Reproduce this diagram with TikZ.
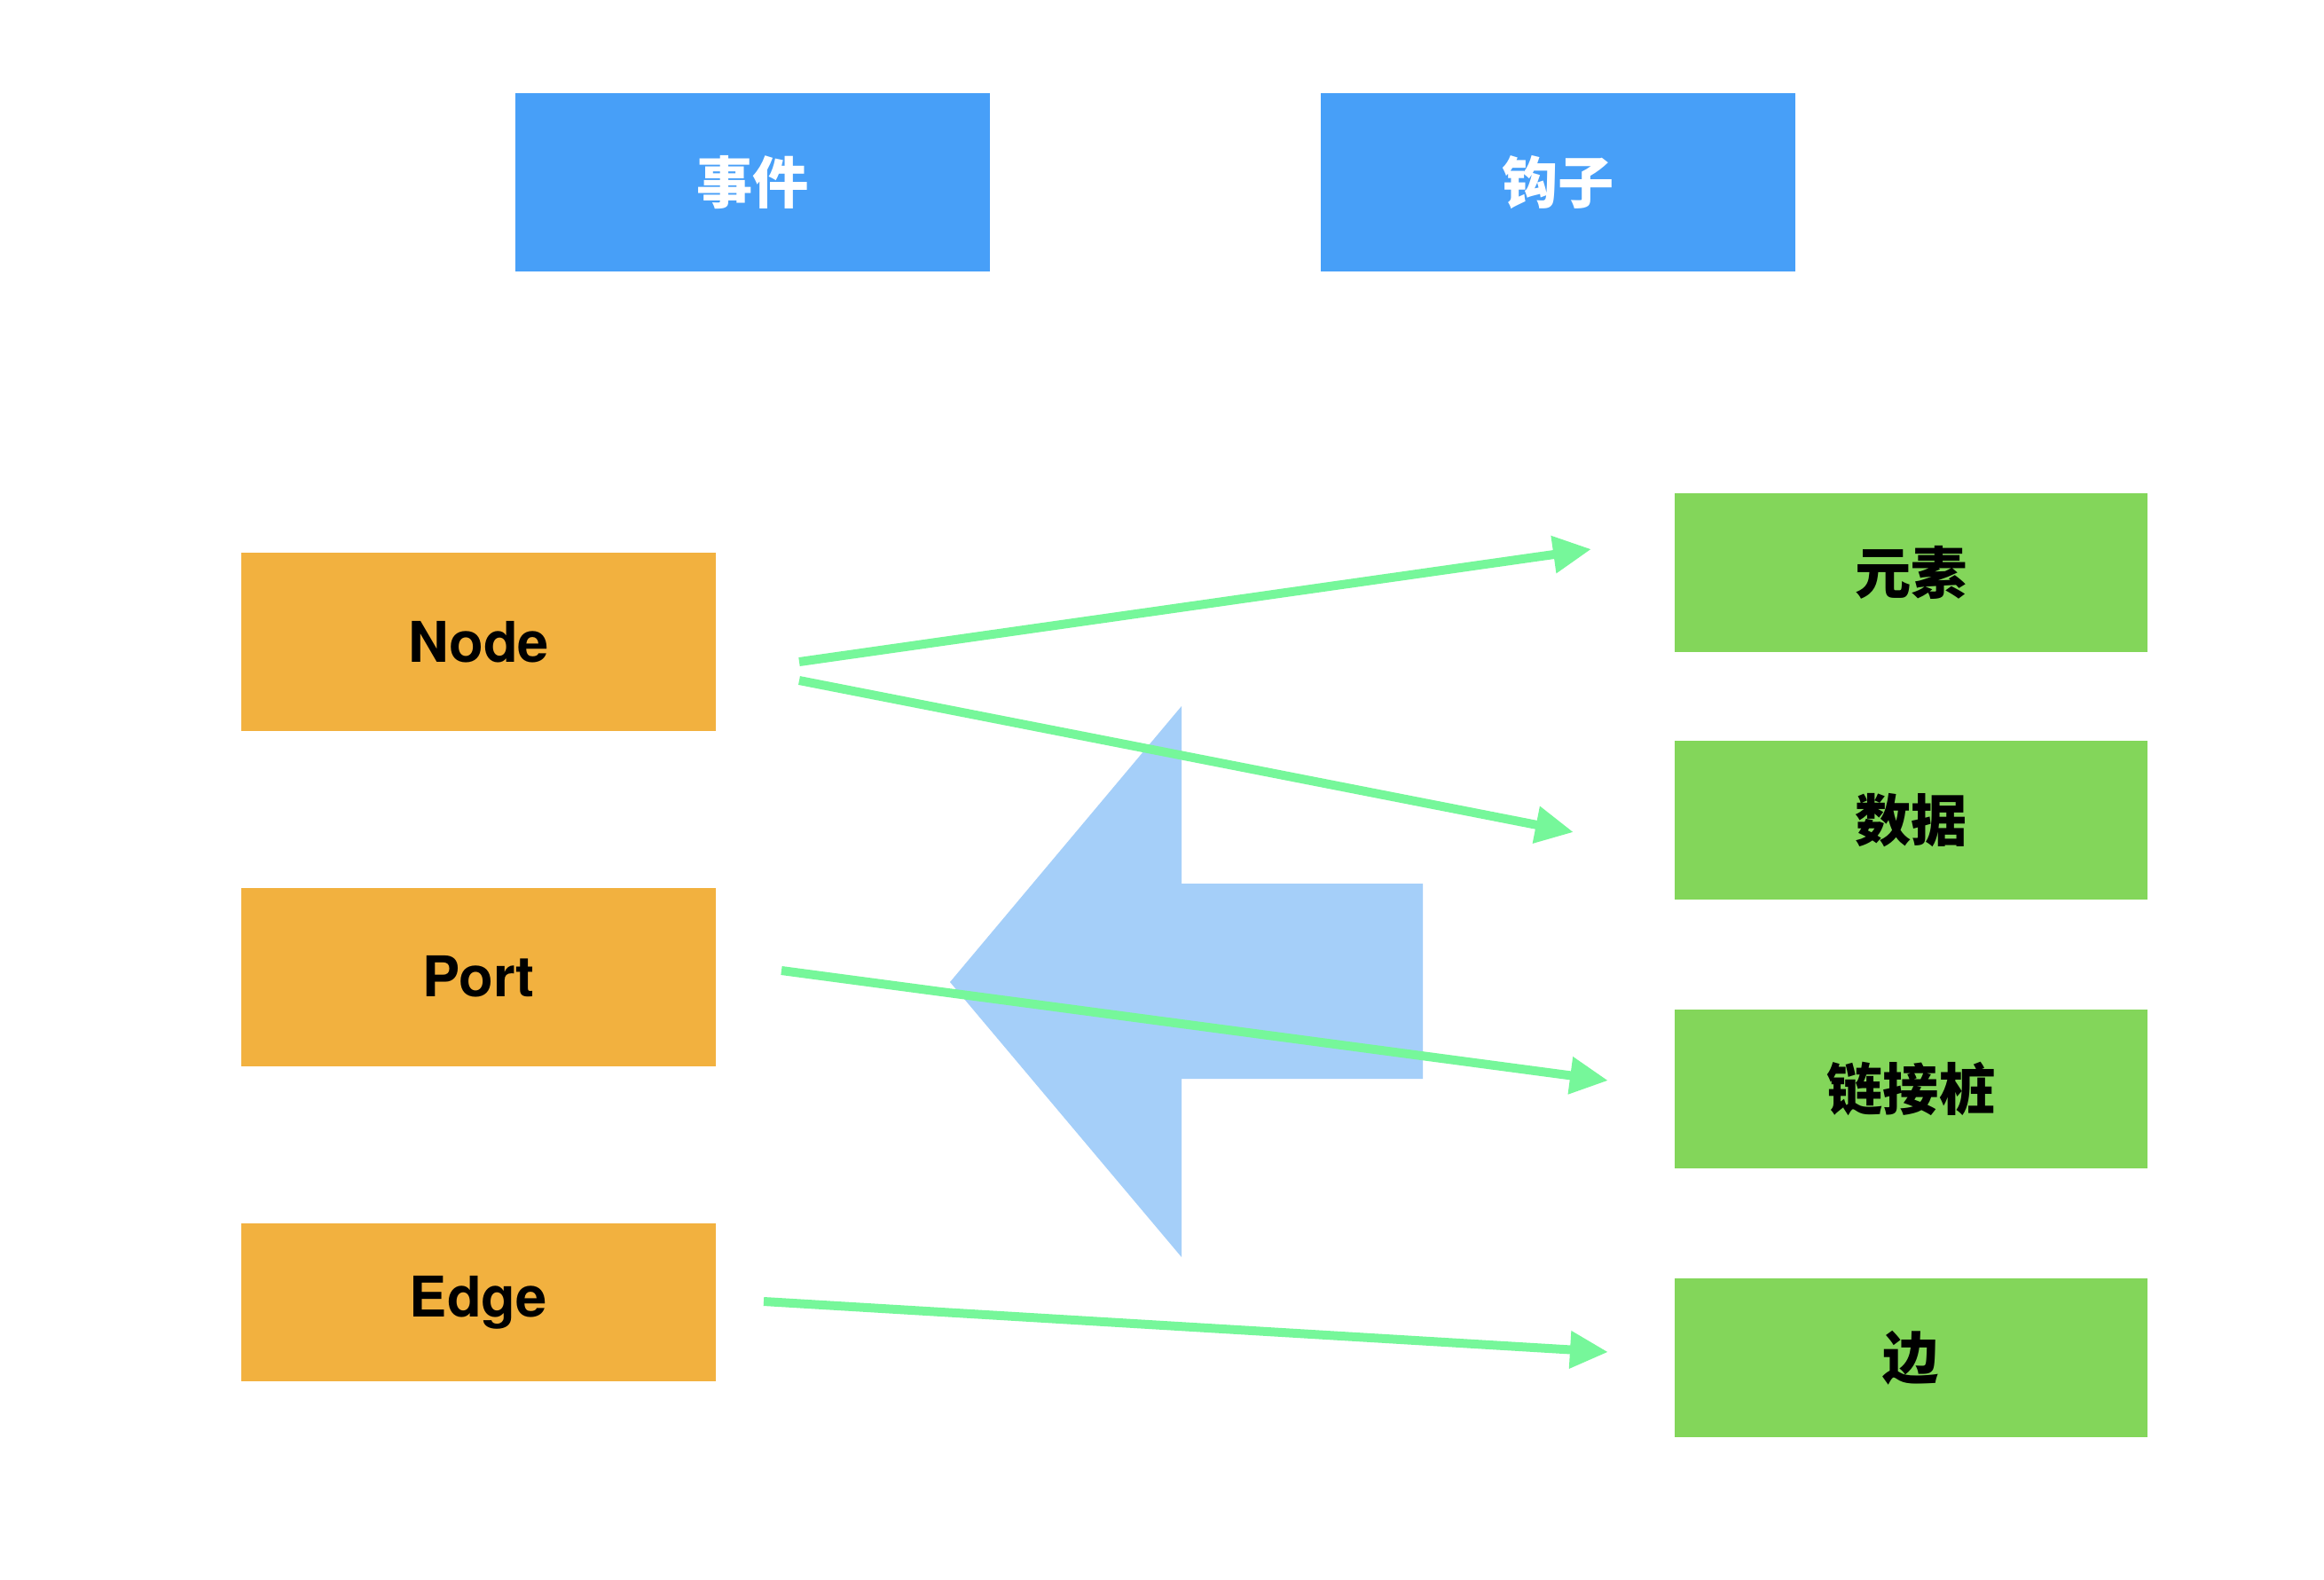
\documentclass[tikz,border=0pt]{standalone}
\usepackage{fontspec}
\setmainfont{TeX Gyre Heros}
\newfontfamily\cjk{Noto Sans CJK SC}
\usetikzlibrary{arrows.meta}
\definecolor{topblue}{HTML}{479FF8}
\definecolor{srcorange}{HTML}{F2B13F}
\definecolor{hookgreen}{HTML}{83D65A}
\definecolor{linkgreen}{HTML}{76F79A}
\definecolor{paleblue}{HTML}{A5CFF9}
\tikzset{box/.style = {rectangle, inner sep = 0, minimum width = 5.35cm, minimum height = 2.01cm}}
\tikzset{evtbox/.style = {box, fill = topblue, text = white, font = \cjk\bfseries\fontsize{18}{22}\selectfont}}
\tikzset{srcbox/.style = {box, fill = srcorange, font = \bfseries\fontsize{18}{22}\selectfont}}
\tikzset{hookbox/.style = {box, fill = hookgreen, minimum width = 5.33cm, minimum height = 1.79cm, font = \cjk\bfseries\fontsize{18}{22}\selectfont}}
\tikzset{link/.style = {draw = linkgreen, line width = 0.1cm, -{Triangle[length = 0.43cm, width = 0.4cm]}}}

\begin{document}
\begin{tikzpicture}
    \useasboundingbox (0, 0) rectangle (26.2, -17.8);
    \fill [white] (0, 0) rectangle (26.2, -17.8);

    % top row
    \node [evtbox] (evt) at (8.485, -2.055) {事件};
    \node [evtbox] (hook) at (17.565, -2.055) {钩子};

    % left column
    \node [srcbox] (node) at (5.395, -7.235) {Node};
    \node [srcbox] (port) at (5.395, -11.01) {Port};
    \node [srcbox, minimum height = 1.78cm] (edge) at (5.395, -14.68) {Edge};

    % right column
    \node [hookbox] (elem) at (21.545, -6.455) {元素};
    \node [hookbox] (data) at (21.545, -9.245) {数据};
    \node [hookbox] (anchor) at (21.545, -12.275) {链接桩};
    \node [hookbox] (side) at (21.545, -15.305) {边};

    % big arrow
    \fill [paleblue] (10.71, -11.07) -- (13.32, -7.96) -- (13.32, -9.96) -- (16.04, -9.96)
      -- (16.04, -12.16) -- (13.32, -12.16) -- (13.32, -14.17) -- cycle;

    % links
    \coordinate (node1) at (9.01, -7.46);
    \coordinate (node2) at (9.01, -7.67);
    \coordinate (port1) at (8.81, -10.94);
    \coordinate (edge1) at (8.61, -14.67);
    \coordinate (elem1) at (17.94, -6.19);
    \coordinate (data1) at (17.74, -9.38);
    \coordinate (anchor1) at (18.13, -12.18);
    \coordinate (side1) at (18.13, -15.24);

    \draw [link] (node1) -- (elem1);
    \draw [link] (node2) -- (data1);
    \draw [link] (port1) -- (anchor1);
    \draw [link] (edge1) -- (side1);

  \end{tikzpicture}
\end{document}
